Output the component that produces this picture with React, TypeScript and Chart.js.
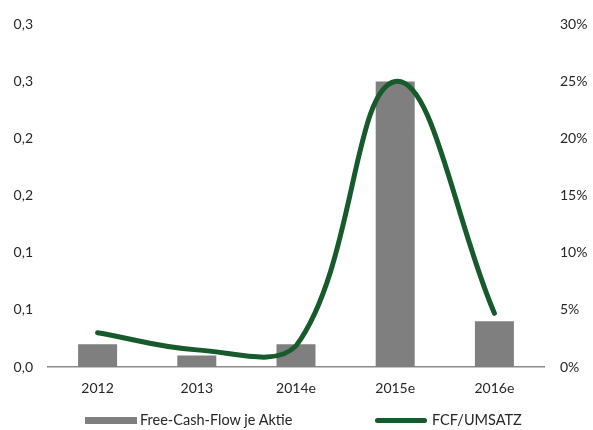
import React, { useEffect, useRef } from "react";
import { Chart, registerables } from "chart.js";

Chart.register(...registerables);

const categories = ["2012", "2013", "2014e", "2015e", "2016e"];
const fcfPerShare = [0.02, 0.01, 0.02, 0.25, 0.04];
const fcfToSales = [3.0, 1.5, 1.85, 25.0, 4.7];
const leftTickLabels = ["0,0", "0,1", "0,1", "0,2", "0,2", "0,3", "0,3"];
const rightTickLabels = ["0%", "5%", "10%", "15%", "20%", "25%", "30%"];
const seriesNames = ["Free-Cash-Flow je Aktie", "FCF/UMSATZ"];

const BAR_COLOR = "#7F7F7F";
const LINE_COLOR = "#175A2C";
const TEXT_COLOR = "#262626";
const FONT = "Lato, 'Open Sans', sans-serif";

export default function App() {
  const ref = useRef<HTMLCanvasElement | null>(null);

  useEffect(() => {
    if (!ref.current) return;
    const chart = new Chart(ref.current, {
      type: "bar",
      data: {
        labels: categories,
        datasets: [
          {
            type: "line",
            label: seriesNames[1],
            data: fcfToSales,
            yAxisID: "y1",
            borderColor: LINE_COLOR,
            backgroundColor: LINE_COLOR,
            borderWidth: 5,
            borderCapStyle: "round",
            tension: 0.4,
            pointRadius: 0,
            fill: false,
            order: 0,
          } as any,
          {
            type: "bar",
            label: seriesNames[0],
            data: fcfPerShare,
            yAxisID: "y",
            backgroundColor: BAR_COLOR,
            borderWidth: 0,
            categoryPercentage: 1,
            barPercentage: 0.393,
            order: 1,
          },
        ],
      },
      options: {
        animation: false,
        responsive: true,
        maintainAspectRatio: false,
        layout: { padding: { top: 22, bottom: 29, left: 0, right: 0 } },
        plugins: {
          legend: { display: false },
          tooltip: { enabled: false },
        },
        scales: {
          x: {
            offset: true,
            grid: { display: false, drawTicks: false },
            border: { display: true, color: "#8C8C8C", width: 1.5 },
            ticks: {
              color: TEXT_COLOR,
              font: { family: FONT, size: 14 },
              padding: 13,
            },
            afterFit: (s: any) => {
              s.height = 34;
            },
          },
          y: {
            position: "left",
            min: 0,
            max: 0.3,
            grid: { display: false, drawTicks: false },
            border: { display: false },
            ticks: {
              stepSize: 0.05,
              color: TEXT_COLOR,
              font: { family: FONT, size: 14 },
              padding: 15,
              callback: (_v: any, i: number) => leftTickLabels[i],
            },
            afterFit: (s: any) => {
              s.width = 48;
            },
          },
          y1: {
            position: "right",
            min: 0,
            max: 30,
            grid: { display: false, drawTicks: false },
            border: { display: false },
            ticks: {
              stepSize: 5,
              color: TEXT_COLOR,
              font: { family: FONT, size: 14 },
              padding: 16,
              callback: (_v: any, i: number) => rightTickLabels[i],
            },
            afterFit: (s: any) => {
              s.width = 49;
            },
          },
        },
      },
    });
    return () => chart.destroy();
  }, []);

  const textStyle: React.CSSProperties = {
    position: "absolute",
    top: 411,
    fontFamily: FONT,
    fontSize: 14.5,
    lineHeight: "18px",
    color: TEXT_COLOR,
    whiteSpace: "nowrap",
  };

  return (
    <div style={{ position: "absolute", left: 0, top: 0, width: 593, height: 430, background: "#fff" }}>
      <canvas ref={ref} />
      <div style={{ position: "absolute", left: 85, top: 417, width: 52, height: 7, background: BAR_COLOR }} />
      <div style={{ ...textStyle, left: 140 }}>{seriesNames[0]}</div>
      <div
        style={{
          position: "absolute",
          left: 375,
          top: 418,
          width: 52,
          height: 5,
          borderRadius: 3,
          background: LINE_COLOR,
        }}
      />
      <div style={{ ...textStyle, left: 432 }}>{seriesNames[1]}</div>
    </div>
  );
}
